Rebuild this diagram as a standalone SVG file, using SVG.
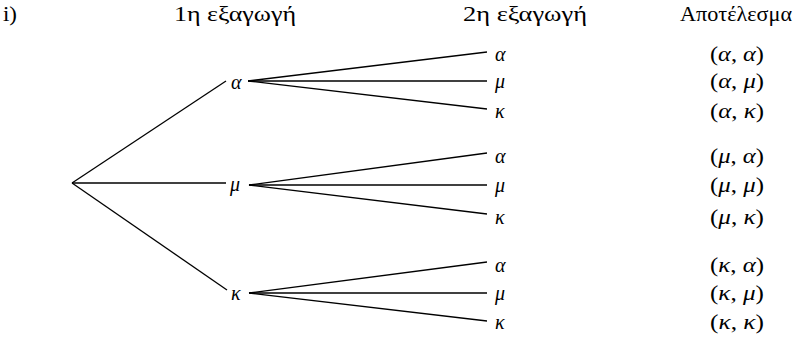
<svg xmlns="http://www.w3.org/2000/svg" width="801" height="339" viewBox="0 0 801 339">
<style>
text{font-family:"Liberation Serif","Times New Roman",serif;font-size:20px;fill:#000}
.h{font-size:21px}
.i{font-style:italic}
.r{text-anchor:middle}
line{stroke:#000;stroke-width:1.3}
</style>
<rect width="801" height="339" fill="#fff"/>
<g id="headers" font-family="Liberation Serif">
<text class="h" x="3" y="21" textLength="14" lengthAdjust="spacingAndGlyphs">i)</text>
<text class="h r" x="235" y="21" textLength="122" lengthAdjust="spacingAndGlyphs">1η εξαγωγή</text>
<text class="h r" x="525" y="21" textLength="124" lengthAdjust="spacingAndGlyphs">2η εξαγωγή</text>
<text class="h r" x="736" y="21" textLength="112" lengthAdjust="spacingAndGlyphs">Αποτέλεσμα</text>
</g>
<g id="connectors">
<line x1="72" y1="183" x2="226" y2="81"/>
<line x1="72" y1="183" x2="226" y2="183"/>
<line x1="72" y1="183" x2="227" y2="290"/>
<line x1="248" y1="81" x2="487" y2="52"/>
<line x1="248" y1="81" x2="487" y2="81"/>
<line x1="248" y1="81" x2="487" y2="109"/>
<line x1="249" y1="185" x2="487" y2="153"/>
<line x1="249" y1="185" x2="487" y2="185"/>
<line x1="249" y1="185" x2="487" y2="214"/>
<line x1="249" y1="293" x2="487" y2="262"/>
<line x1="249" y1="293" x2="487" y2="293"/>
<line x1="249" y1="293" x2="487" y2="321"/>
</g>
<g id="n1a"><text class="i" x="231" y="89">α</text></g>
<g id="n1m"><text class="i" x="230" y="191">μ</text></g>
<g id="n1k"><text class="i" x="231" y="300">κ</text></g>
<g id="n2aa"><text class="i" x="495" y="61">α</text></g>
<g id="n2am"><text class="i" x="495" y="88">μ</text></g>
<g id="n2ak"><text class="i" x="495" y="118">κ</text></g>
<g id="n2ma"><text class="i" x="495" y="163">α</text></g>
<g id="n2mm"><text class="i" x="495" y="192">μ</text></g>
<g id="n2mk"><text class="i" x="495" y="224">κ</text></g>
<g id="n2ka"><text class="i" x="495" y="272">α</text></g>
<g id="n2km"><text class="i" x="495" y="300">μ</text></g>
<g id="n2kk"><text class="i" x="495" y="329">κ</text></g>
<g id="results">
<text class="r" x="737" y="61" textLength="54" lengthAdjust="spacingAndGlyphs">(<tspan class="i">α</tspan>, <tspan class="i">α</tspan>)</text>
<text class="r" x="737" y="88" textLength="54" lengthAdjust="spacingAndGlyphs">(<tspan class="i">α</tspan>, <tspan class="i">μ</tspan>)</text>
<text class="r" x="737" y="118" textLength="54" lengthAdjust="spacingAndGlyphs">(<tspan class="i">α</tspan>, <tspan class="i">κ</tspan>)</text>
<text class="r" x="737" y="163" textLength="54" lengthAdjust="spacingAndGlyphs">(<tspan class="i">μ</tspan>, <tspan class="i">α</tspan>)</text>
<text class="r" x="737" y="192" textLength="54" lengthAdjust="spacingAndGlyphs">(<tspan class="i">μ</tspan>, <tspan class="i">μ</tspan>)</text>
<text class="r" x="737" y="224" textLength="54" lengthAdjust="spacingAndGlyphs">(<tspan class="i">μ</tspan>, <tspan class="i">κ</tspan>)</text>
<text class="r" x="737" y="272" textLength="54" lengthAdjust="spacingAndGlyphs">(<tspan class="i">κ</tspan>, <tspan class="i">α</tspan>)</text>
<text class="r" x="737" y="300" textLength="54" lengthAdjust="spacingAndGlyphs">(<tspan class="i">κ</tspan>, <tspan class="i">μ</tspan>)</text>
<text class="r" x="737" y="329" textLength="54" lengthAdjust="spacingAndGlyphs">(<tspan class="i">κ</tspan>, <tspan class="i">κ</tspan>)</text>
</g>
</svg>
